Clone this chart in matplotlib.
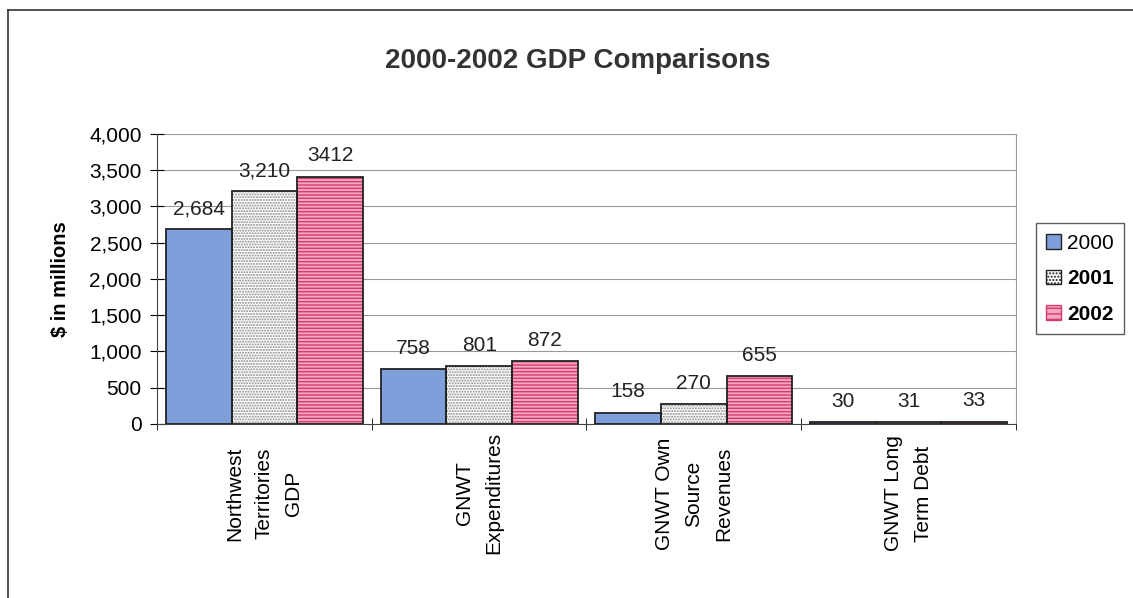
import numpy as np
import matplotlib.pyplot as plt
from matplotlib.lines import Line2D
from matplotlib.patches import Patch
from matplotlib.ticker import FuncFormatter, MultipleLocator

categories = ["Northwest\nTerritories\nGDP", "GNWT\nExpenditures",
              "GNWT Own\nSource\nRevenues", "GNWT Long\nTerm Debt"]
years = ["2000", "2001", "2002"]
vals_2000 = [2684, 758, 158, 30]
vals_2001 = [3210, 801, 270, 31]
vals_2002 = [3412, 872, 655, 33]
labels_2000 = ["2,684", "758", "158", "30"]
labels_2001 = ["3,210", "801", "270", "31"]
labels_2002 = ["3412", "872", "655", "33"]

plt.rcParams['font.family'] = ['Liberation Sans', 'DejaVu Sans']
plt.rcParams['hatch.linewidth'] = 1.0

fig = plt.figure(figsize=(11.33, 5.98), dpi=100)
ax = fig.add_axes([0.1386, 0.291, 0.7581, 0.485])

x = np.arange(len(categories))
w = 0.306

# (face, hatch, hatch colour)
styles = [("#7f9fdb", None, None),
          ("white", "......", "#888888"),
          ("#f3a6c0", "-----", "#d63c72")]
series = [vals_2000, vals_2001, vals_2002]
labels = [labels_2000, labels_2001, labels_2002]

for i, (vals, labs, (fc, hatch, hc)) in enumerate(zip(series, labels, styles)):
    pos = x + (i - 1) * w
    if hatch:
        ax.bar(pos, vals, w, color=fc, hatch=hatch, edgecolor=hc,
               linewidth=0, zorder=2)
    else:
        ax.bar(pos, vals, w, color=fc, linewidth=0, zorder=2)
    ax.bar(pos, vals, w, fill=False, edgecolor="#222222", linewidth=1.3, zorder=3)
    for p, v, t in zip(pos, vals, labs):
        ax.annotate(t, (p, v), xytext=(0, 8), textcoords="offset points",
                    ha="center", va="bottom", fontsize=15, color="#222222")

ax.set_xlim(-0.5, len(categories) - 0.5)
ax.set_ylim(0, 4000)
ax.yaxis.set_major_locator(MultipleLocator(500))
ax.yaxis.set_major_formatter(FuncFormatter(lambda v, p: f"{int(v):,}"))
ax.grid(axis="y", color="#999999", linewidth=0.8, zorder=0)
ax.set_axisbelow(True)

ax.set_xticks(x)
ax.set_xticklabels(categories, rotation=90, ha="center", va="center",
                   multialignment="center", fontsize=15, linespacing=1.7)
ax.tick_params(axis="x", length=0, pad=50)
ax.set_xticks(np.arange(-0.5, len(categories), 1), minor=True)
ax.tick_params(axis="x", which="minor", length=8, direction="inout")
ax.tick_params(axis="y", labelsize=15, direction="inout", length=10, pad=6)

ax.spines["top"].set_visible(False)
ax.spines["right"].set_color("#999999")
ax.spines["left"].set_color("#444444")
ax.spines["bottom"].set_color("#444444")

ax.set_ylabel("$ in millions", fontsize=14.5, fontweight="bold", labelpad=14)
fig.text(0.51, 0.898, "2000-2002 GDP Comparisons", ha="center", va="center",
         fontsize=20, fontweight="bold", color="#333333")

handles = [Patch(facecolor="#7f9fdb", edgecolor="#222222"),
           Patch(facecolor="white", edgecolor="#222222", hatch="....."),
           Patch(facecolor="#f3a6c0", edgecolor="#d63c72", hatch="---")]
leg = fig.legend(handles, years, loc="center", bbox_to_anchor=(0.953, 0.534),
                 frameon=True, fancybox=False, edgecolor="#333333",
                 fontsize=15, handlelength=0.7, handleheight=0.7,
                 handletextpad=0.3, labelspacing=0.8, borderpad=0.5,
                 borderaxespad=0)
for t in leg.get_texts()[1:]:
    t.set_fontweight("bold")

# scanned page border: only top and left edges are visible
fig.add_artist(Line2D([0.007, 1.0], [0.983, 0.983], transform=fig.transFigure,
                      color="#333333", linewidth=1.2))
fig.add_artist(Line2D([0.007, 0.007], [0.0, 0.983], transform=fig.transFigure,
                      color="#333333", linewidth=1.2))

fig.savefig("out.png", dpi=100)
